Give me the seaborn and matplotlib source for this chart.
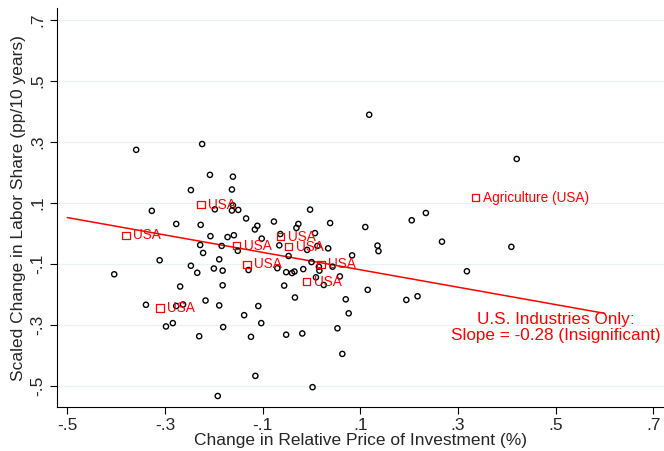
import matplotlib
matplotlib.use("Agg")
import matplotlib.pyplot as plt
import seaborn as sns
import pandas as pd

# ---- data ----
all_x = [-0.359, -0.224, -0.208, -0.247, -0.327, -0.198, -0.277, -0.227, -0.161, -0.163,
         -0.161, -0.163, -0.150, -0.134, -0.111, -0.116, -0.077, -0.027, -0.031, -0.003,
         0.038, 0.118, 0.420, 0.110, 0.205, 0.234, -0.207, -0.228, -0.222, -0.189,
         -0.311, -0.404, -0.247, -0.234, -0.200, -0.269, -0.339, -0.277, -0.263, -0.217,
         -0.189, -0.298, -0.284, -0.230, -0.172, -0.159, -0.102, -0.064, 0.007, -0.151,
         -0.184, -0.066, -0.047, -0.009, 0.012, 0.034, 0.083, -0.129, -0.182, -0.070,
         -0.052, -0.040, -0.035, -0.017, 0.000, 0.015, 0.016, 0.043, 0.058, 0.009,
         0.025, -0.056, -0.182, -0.034, 0.070, 0.076, -0.109, -0.138, -0.103, -0.181,
         0.053, -0.124, -0.052, -0.019, 0.063, -0.115, 0.002, -0.192, 0.267, 0.409,
         0.135, 0.137, 0.318, 0.115, 0.194, 0.217]
all_y = [0.273, 0.292, 0.191, 0.141, 0.073, 0.078, 0.030, 0.027, 0.185, 0.143,
         0.091, 0.074, 0.076, 0.048, 0.024, 0.012, 0.038, 0.030, 0.017, 0.077,
         0.033, 0.388, 0.243, 0.020, 0.042, 0.066, -0.010, -0.039, -0.065, -0.086,
         -0.089, -0.135, -0.107, -0.130, -0.116, -0.175, -0.235, -0.239, -0.234, -0.221,
         -0.237, -0.306, -0.295, -0.338, -0.013, -0.007, -0.018, -0.003, 0.000, -0.058,
         -0.042, -0.040, -0.075, -0.055, -0.042, -0.050, -0.073, -0.121, -0.123, -0.115,
         -0.128, -0.131, -0.126, -0.118, -0.095, -0.110, -0.123, -0.110, -0.142, -0.145,
         -0.170, -0.172, -0.171, -0.211, -0.217, -0.263, -0.239, -0.269, -0.295, -0.308,
         -0.312, -0.340, -0.333, -0.329, -0.396, -0.468, -0.505, -0.534, -0.028, -0.045,
         -0.041, -0.059, -0.125, -0.186, -0.219, -0.207]

us_x = [-0.226, -0.380, -0.310, -0.153, -0.063, -0.047, -0.132, 0.019, -0.010, 0.336]
us_y = [0.093, -0.007, -0.246, -0.041, -0.012, -0.044, -0.102, -0.102, -0.159, 0.116]
us_labels = ["USA", "USA", "USA", "USA", "USA", "USA", "USA", "USA", "USA",
             "Agriculture (USA)"]

fit_x = [-0.5, 0.6]
fit_y = [0.051, -0.263]

ticks = [-0.5, -0.3, -0.1, 0.1, 0.3, 0.5, 0.7]
tick_labels = ["-.5", "-.3", "-.1", ".1", ".3", ".5", ".7"]

note_text = "U.S. Industries Only:\nSlope = -0.28 (Insignificant)"
x_title = "Change in Relative Price of Investment (%)"
y_title = "Scaled Change in Labor Share (pp/10 years)"

# ---- style ----
sns.set_style("white")
plt.rcParams["font.family"] = ["Liberation Sans", "DejaVu Sans"]

RED = "#FF0000"
GRID = "#EAF2F3"

fig = plt.figure(figsize=(6.64, 4.51), dpi=100)
ax = fig.add_axes([0.0854, 0.0969, 0.9146, 0.8854])

df_all = pd.DataFrame({"x": all_x, "y": all_y})
df_us = pd.DataFrame({"x": us_x, "y": us_y, "label": us_labels})

for t in ticks:
    ax.axhline(t, color=GRID, lw=0.9, zorder=0)

sns.scatterplot(data=df_all, x="x", y="y", ax=ax, marker="o", s=14,
                facecolors="none", edgecolor="black", linewidth=1.0, zorder=3)
sns.lineplot(x=fit_x, y=fit_y, ax=ax, color=RED, lw=1.1, zorder=2)
sns.scatterplot(data=df_us, x="x", y="y", ax=ax, marker="s", s=28,
                facecolors="none", edgecolor=RED, linewidth=0.9, zorder=4)

for xv, yv, lab in zip(us_x, us_y, us_labels):
    ax.annotate(lab, (xv, yv), xytext=(5, 0), textcoords="offset points",
                ha="left", va="center", color=RED, fontsize=9.8, zorder=5)

ax.text(0.500, -0.310, note_text, color=RED, fontsize=12.3, ha="center",
        va="center", linespacing=1.05)

ax.set_xlim(-0.5217, 0.7215)
ax.set_ylim(-0.571, 0.738)
ax.set_xticks(ticks)
ax.set_xticklabels(tick_labels)
ax.set_yticks(ticks)
ax.set_yticklabels(tick_labels, rotation=90, va="center")
ax.tick_params(axis="both", direction="out", length=5, width=0.8, color="black",
               labelsize=12.5, pad=3, bottom=True, left=True)
ax.set_xlabel(x_title, fontsize=12.5, labelpad=0)
ax.set_ylabel(y_title, fontsize=12.5, labelpad=3)

for side in ["top", "right"]:
    ax.spines[side].set_visible(False)
for side in ["left", "bottom"]:
    ax.spines[side].set_color("black")
    ax.spines[side].set_linewidth(0.8)

fig.savefig("out.png", dpi=100)
